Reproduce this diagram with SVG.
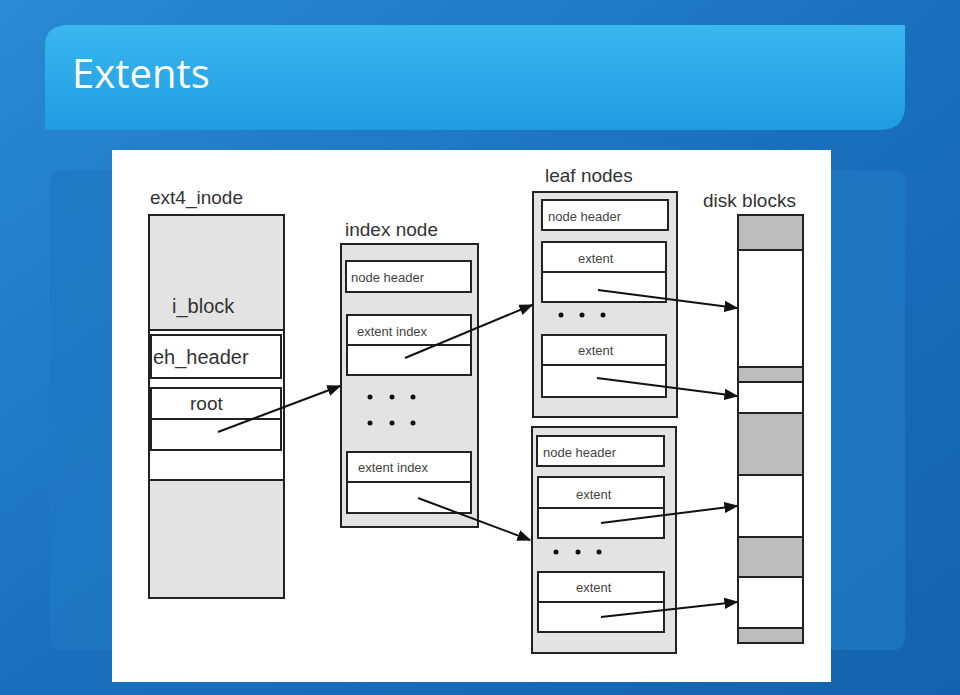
<svg xmlns="http://www.w3.org/2000/svg" width="960" height="695" viewBox="0 0 960 695">
<defs>
<linearGradient id="bg" x1="0" y1="0" x2="1" y2="1"><stop offset="0" stop-color="#2a8ad4"/><stop offset="0.5" stop-color="#1a70bd"/><stop offset="1" stop-color="#1462ad"/></linearGradient>
<linearGradient id="tb" x1="0" y1="0" x2="0" y2="1"><stop offset="0" stop-color="#3ab6f0"/><stop offset="1" stop-color="#1f9ce0"/></linearGradient>
<marker id="ah" viewBox="0 0 10 10" refX="9" refY="5" markerWidth="7" markerHeight="7" orient="auto"><path d="M0,1 L10,5 L0,9 z" fill="#111"/></marker>
<style>
.g{fill:#e3e3e3;stroke:#222;stroke-width:2}
.w{fill:#fff;stroke:#222;stroke-width:2}
.t{font-family:"Liberation Sans",Arial,sans-serif;fill:#333}
.s{font-family:"Liberation Sans",Arial,sans-serif;fill:#444;font-size:13px}
.c{stroke:#111;stroke-width:2;fill:none;marker-end:url(#ah)}
</style>
</defs>
<rect width="960" height="695" fill="url(#bg)"/>
<path d="M45,45 Q45,25 70,25 L905,25 L905,105 Q905,130 880,130 L45,130 Z" fill="url(#tb)"/>
<rect x="50" y="170" width="855" height="480" rx="12" fill="#1f78c2" opacity="0.8"/>
<text x="72" y="88" font-family="'Open Sans','Liberation Sans',sans-serif" font-size="40" fill="#fff">Extents</text>
<rect x="112" y="150" width="719" height="532" fill="#fff"/>

<g id="inode">
<text class="t" x="150" y="204" font-size="19">ext4_inode</text>
<rect class="g" x="149" y="215" width="135" height="383"/>
<text class="t" x="172" y="313" font-size="20">i_block</text>
<rect class="w" x="149" y="330" width="135" height="150"/>
<rect class="w" x="151" y="335" width="130" height="43" stroke-width="3"/>
<text class="t" x="153" y="364" font-size="20">eh_header</text>
<rect class="w" x="151" y="388" width="130" height="62" stroke-width="3"/>
<line x1="151" y1="419" x2="281" y2="419" stroke="#222" stroke-width="2"/>
<text class="t" x="190" y="410" font-size="19">root</text>
</g>

<g id="index">
<text class="t" x="345" y="236" font-size="19">index node</text>
<rect class="g" x="341" y="244" width="137" height="283"/>
<rect class="w" x="346" y="261" width="125" height="31"/>
<text class="s" x="351" y="282">node header</text>
<rect class="w" x="347" y="315" width="124" height="60"/>
<line x1="347" y1="345" x2="471" y2="345" stroke="#222" stroke-width="2"/>
<text class="s" x="357" y="336">extent index</text>
<g fill="#111"><circle cx="370" cy="397" r="2.5"/><circle cx="392" cy="397" r="2.5"/><circle cx="413" cy="397" r="2.5"/><circle cx="370" cy="423" r="2.5"/><circle cx="392" cy="423" r="2.5"/><circle cx="413" cy="423" r="2.5"/></g>
<rect class="w" x="347" y="452" width="124" height="61"/>
<line x1="347" y1="482" x2="471" y2="482" stroke="#222" stroke-width="2"/>
<text class="s" x="358" y="472">extent index</text>
</g>

<g id="leaf1">
<text class="t" x="545" y="182" font-size="19">leaf nodes</text>
<rect class="g" x="533" y="192" width="144" height="225" stroke-width="3"/>
<rect class="w" x="542" y="200" width="126" height="30" stroke-width="3"/>
<text class="s" x="548" y="221">node header</text>
<rect class="w" x="542" y="242" width="124" height="60"/>
<line x1="542" y1="272" x2="666" y2="272" stroke="#222" stroke-width="2"/>
<text class="s" x="578" y="263">extent</text>
<g fill="#111"><circle cx="561" cy="315" r="2.5"/><circle cx="582" cy="315" r="2.5"/><circle cx="603" cy="315" r="2.5"/></g>
<rect class="w" x="542" y="335" width="124" height="62"/>
<line x1="542" y1="365" x2="666" y2="365" stroke="#222" stroke-width="2"/>
<text class="s" x="578" y="355">extent</text>
</g>

<g id="leaf2">
<rect class="g" x="532" y="427" width="144" height="226"/>
<rect class="w" x="537" y="436" width="127" height="30"/>
<text class="s" x="543" y="457">node header</text>
<rect class="w" x="538" y="477" width="126" height="61"/>
<line x1="538" y1="508" x2="664" y2="508" stroke="#222" stroke-width="2"/>
<text class="s" x="576" y="499">extent</text>
<g fill="#111"><circle cx="556" cy="552" r="2.5"/><circle cx="578" cy="552" r="2.5"/><circle cx="599" cy="552" r="2.5"/></g>
<rect class="w" x="538" y="572" width="126" height="60"/>
<line x1="538" y1="602" x2="664" y2="602" stroke="#222" stroke-width="2"/>
<text class="s" x="576" y="592">extent</text>
</g>

<g id="disk">
<text class="t" x="703" y="207" font-size="19">disk blocks</text>
<rect class="w" x="738" y="215" width="65" height="428"/>
<g fill="#bdbdbd" stroke="#222" stroke-width="2">
<rect x="738" y="215" width="65" height="35"/>
<rect x="738" y="367" width="65" height="15"/>
<rect x="738" y="413" width="65" height="62"/>
<rect x="738" y="537" width="65" height="40"/>
<rect x="738" y="628" width="65" height="15"/>
</g>
</g>

<g id="connectors">
<line class="c" x1="218" y1="432" x2="340" y2="386"/>
<line class="c" x1="405" y1="358" x2="532" y2="305"/>
<line class="c" x1="418" y1="498" x2="530" y2="540"/>
<line class="c" x1="598" y1="290" x2="737" y2="308"/>
<line class="c" x1="597" y1="378" x2="737" y2="396"/>
<line class="c" x1="601" y1="523" x2="737" y2="506"/>
<line class="c" x1="601" y1="617" x2="737" y2="602"/>
</g>
</svg>
